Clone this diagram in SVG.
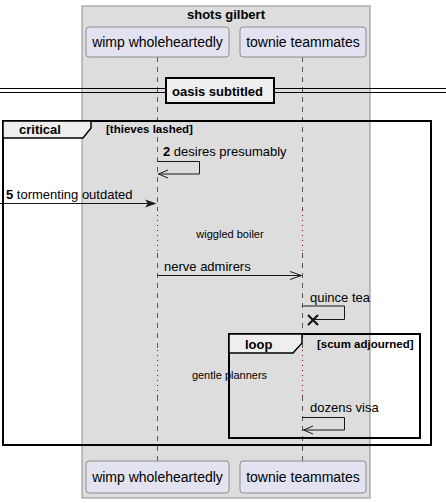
<svg xmlns="http://www.w3.org/2000/svg" width="446" height="503" viewBox="0 0 446 503">
<style>
text{font-family:"Liberation Sans",Arial,sans-serif;fill:#000}
.part{fill:#E2E2F0;stroke:#8C8C8C;stroke-width:1}
.pt{font-size:14px}
.msg{font-size:13px}
.b{font-weight:bold}
.life{stroke:#555;stroke-width:1;stroke-dasharray:5,5}
.dot{stroke:#A80036;stroke-width:1;stroke-dasharray:1,4}
.ln{stroke:#181818;stroke-width:1;fill:none}
.frame{fill:none;stroke:#000;stroke-width:2}
.tab{fill:#EEEEEE;stroke:#000;stroke-width:1.5}
.gt{font-size:13px;font-weight:bold}
.gc{font-size:11.5px;font-weight:bold}
.dl{font-size:11px}
</style>
<g id="box-shots-gilbert">
<rect x="82" y="6" width="288" height="492" fill="#DDDDDD" stroke="#8C8C8C" stroke-width="1"/>
<text x="226" y="19" text-anchor="middle" class="gt">shots gilbert</text>
</g>
<g id="lifelines">
<line x1="157.5" y1="57" x2="157.5" y2="210" class="life"/>
<line x1="157.5" y1="210" x2="157.5" y2="253" class="dot"/>
<line x1="157.5" y1="253" x2="157.5" y2="350" class="life"/>
<line x1="157.5" y1="350" x2="157.5" y2="396" class="dot"/>
<line x1="157.5" y1="396" x2="157.5" y2="461" class="life"/>
<line x1="302.5" y1="57" x2="302.5" y2="210" class="life"/>
<line x1="302.5" y1="210" x2="302.5" y2="253" class="dot"/>
<line x1="302.5" y1="253" x2="302.5" y2="350" class="life"/>
<line x1="302.5" y1="350" x2="302.5" y2="396" class="dot"/>
<line x1="302.5" y1="396" x2="302.5" y2="461" class="life"/>
</g>
<g id="wimp-wholeheartedly">
<rect x="86" y="27" width="143" height="30" rx="3" class="part"/>
<text x="157.5" y="47" text-anchor="middle" class="pt">wimp wholeheartedly</text>
<rect x="86" y="461" width="143" height="32" rx="3" class="part"/>
<text x="157.5" y="482" text-anchor="middle" class="pt">wimp wholeheartedly</text>
</g>
<g id="townie-teammates">
<rect x="240" y="27" width="126" height="30" rx="3" class="part"/>
<text x="303" y="47" text-anchor="middle" class="pt">townie teammates</text>
<rect x="240" y="461" width="126" height="32" rx="3" class="part"/>
<text x="303" y="482" text-anchor="middle" class="pt">townie teammates</text>
</g>
<g id="divider-oasis-subtitled">
<line x1="0" y1="88.5" x2="446" y2="88.5" stroke="#000" stroke-width="1.2"/>
<line x1="0" y1="92.5" x2="446" y2="92.5" stroke="#000" stroke-width="1.2"/>
<rect x="166" y="78" width="108" height="25" fill="#EEEEEE" stroke="#000" stroke-width="2"/>
<text x="172" y="96" class="gt">oasis subtitled</text>
</g>
<g id="group-critical">
<rect x="3" y="121" width="428" height="324" class="frame"/>
<polygon points="3,121 91,121 91,128 83,138 3,138" class="tab"/>
<text x="19" y="134" class="gt">critical</text>
<text x="106" y="133" class="gc">[thieves lashed]</text>
</g>
<g id="group-loop">
<rect x="229" y="334" width="191" height="104" class="frame"/>
<polygon points="229,334 302,334 302,343 293,353 229,353" class="tab"/>
<text x="245" y="349" class="gt">loop</text>
<text x="317" y="348" class="gc">[scum adjourned]</text>
</g>
<g id="connectors">
<g id="msg-2">
<polyline points="157.5,161.5 199.5,161.5 199.5,174 158.5,174" class="ln"/>
<polyline points="168,170 158.5,174 168,178" class="ln"/>
<text x="163" y="156" class="msg"><tspan class="b">2</tspan> desires presumably</text>
</g>
<g id="msg-5">
<line x1="0" y1="203.5" x2="150" y2="203.5" class="ln"/>
<polygon points="145,199.5 156.5,203.5 145,207.5 148,203.5" fill="#181818"/>
<text x="6" y="199" class="msg"><tspan class="b">5</tspan> tormenting outdated</text>
</g>
<g id="delay-wiggled-boiler">
<text x="230" y="238" text-anchor="middle" class="dl">wiggled boiler</text>
</g>
<g id="msg-nerve-admirers">
<line x1="157.5" y1="275.5" x2="301.5" y2="275.5" class="ln"/>
<polyline points="290,271.5 301.5,275.5 290,279.5" class="ln"/>
<text x="164" y="271" class="msg">nerve admirers</text>
</g>
<g id="msg-quince-tea">
<polyline points="302.5,306 344.5,306 344.5,319.5 313,319.5" class="ln"/>
<path d="M308,315 L318,325 M318,315 L308,325" stroke="#181818" stroke-width="2.2" fill="none"/>
<text x="310" y="302" class="msg">quince tea</text>
</g>
<g id="delay-gentle-planners">
<text x="229.5" y="379" text-anchor="middle" class="dl">gentle planners</text>
</g>
<g id="msg-dozens-visa">
<polyline points="302.5,417.5 344.5,417.5 344.5,430 303.5,430" class="ln"/>
<polyline points="313,426 303.5,430 313,434" class="ln"/>
<text x="310" y="412" class="msg">dozens visa</text>
</g>
</g>
</svg>
